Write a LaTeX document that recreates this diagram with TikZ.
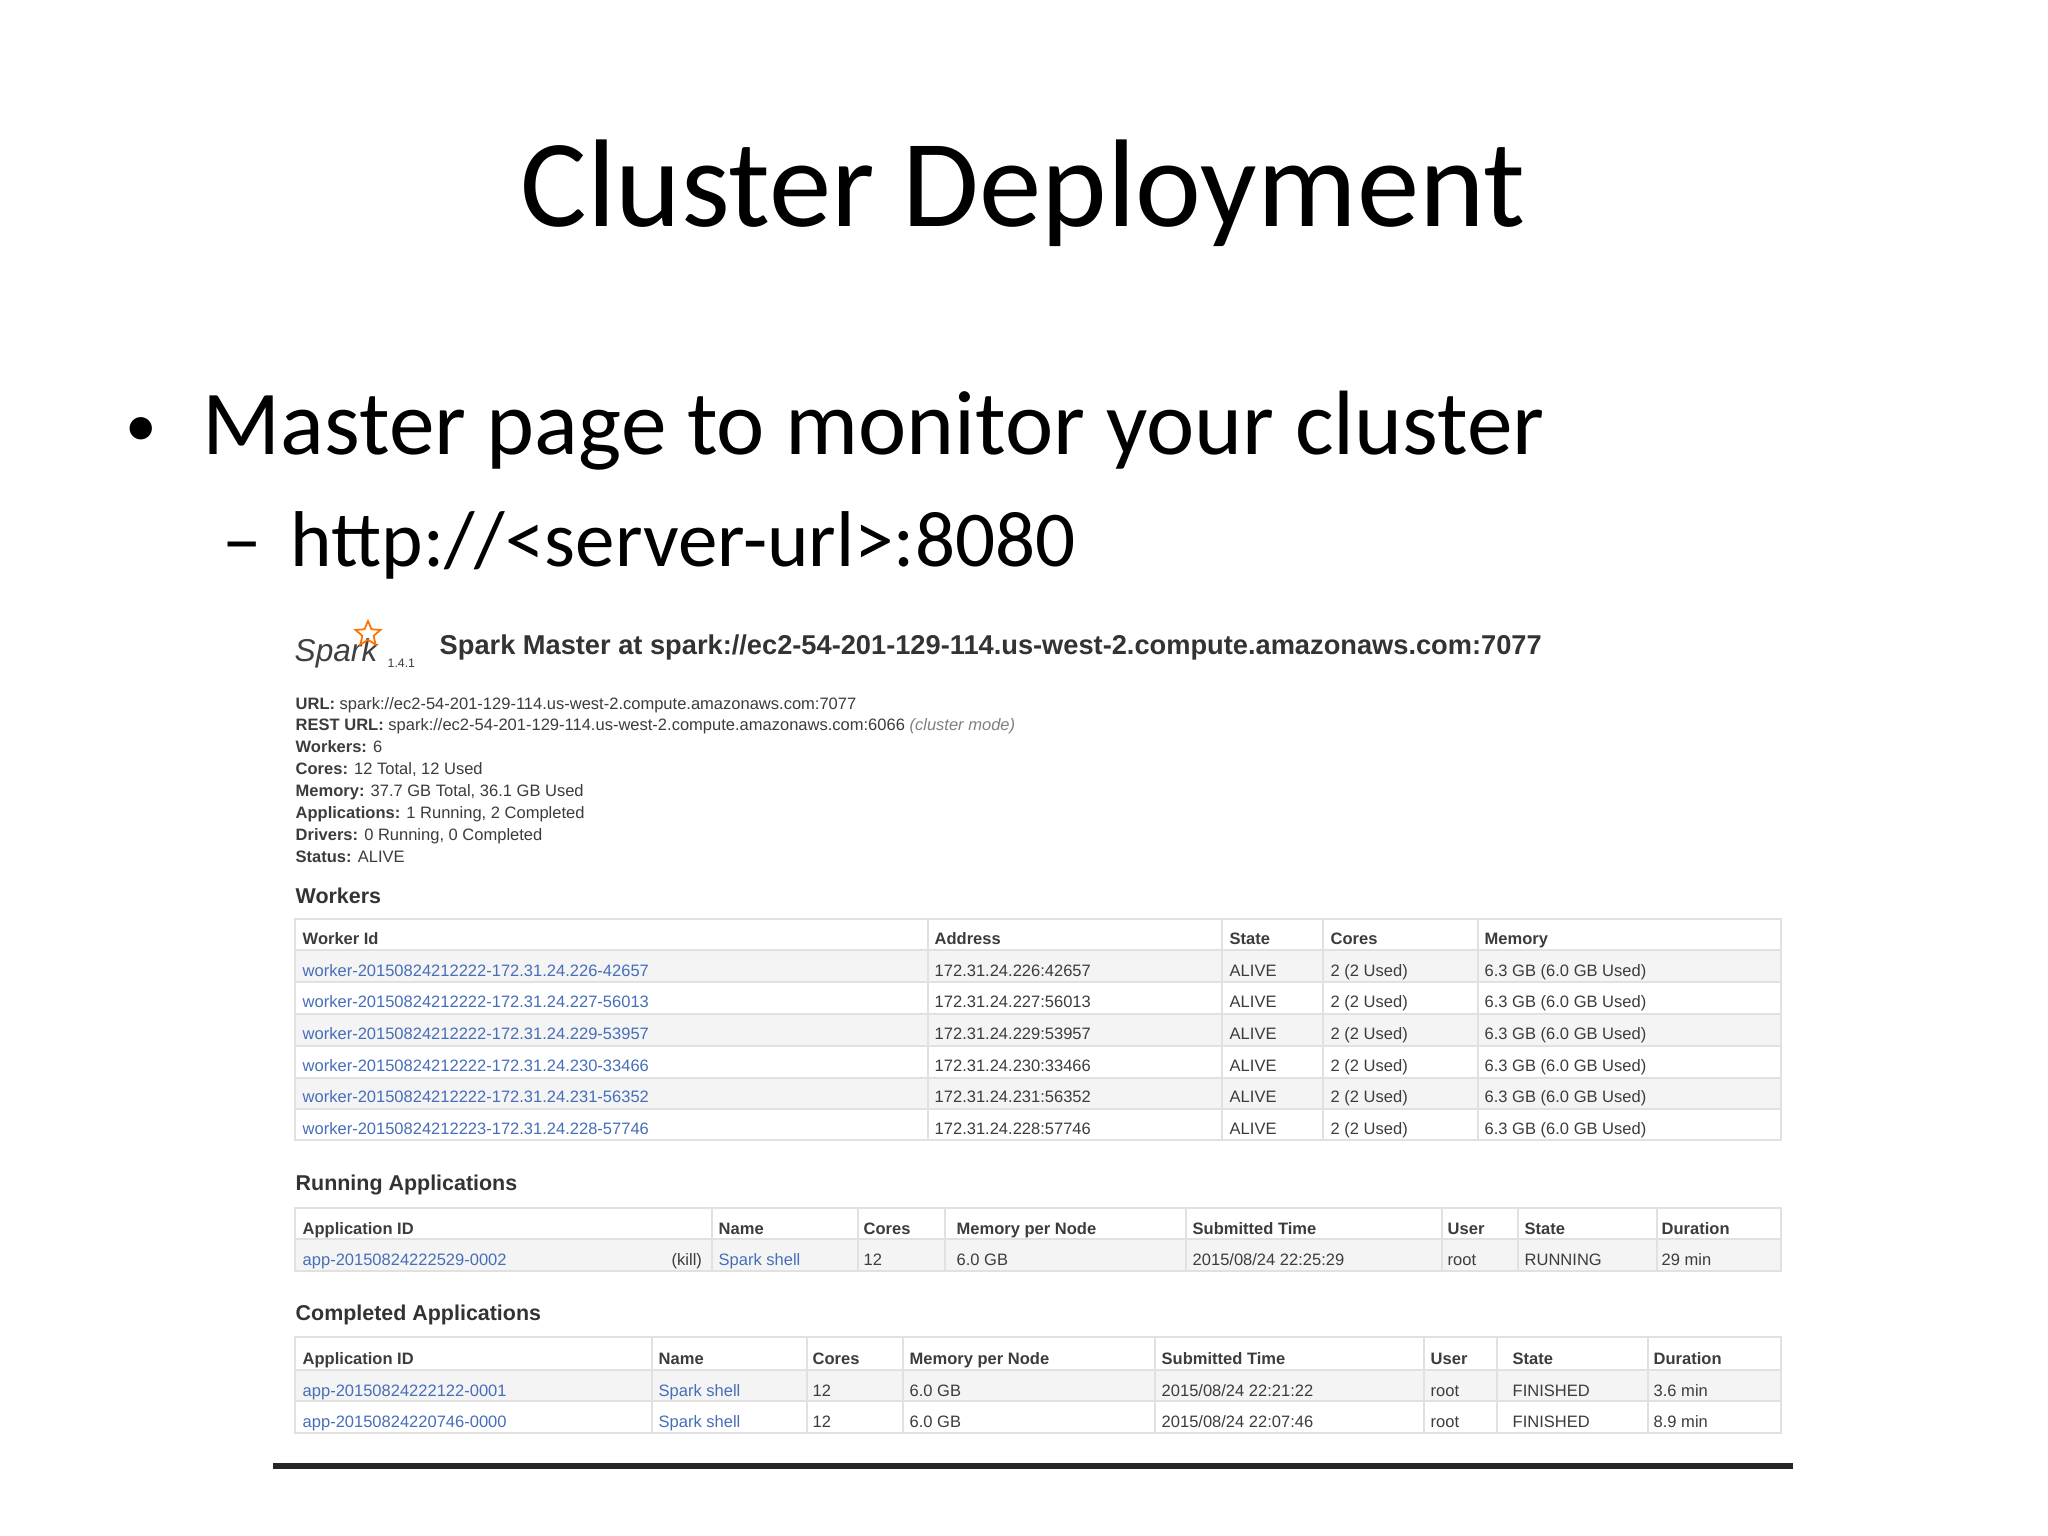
\documentclass[tikz,border=0pt]{standalone}
\usepackage{fontspec}
\setmainfont{Carlito}
\newfontfamily\ui{Liberation Sans}
\usetikzlibrary{shapes.geometric}
\definecolor{lnk}{RGB}{70,110,185}
\definecolor{rowg}{RGB}{244,244,244}
\definecolor{sepg}{RGB}{225,225,225}
\definecolor{txg}{RGB}{60,60,60}
\tikzset{
 sm/.style={anchor=west,inner sep=0pt,text height=1.5ex,text depth=0.3ex,font=\ui\fontsize{4.7}{6}\selectfont,text=txg},
 hd/.style={sm,font=\ui\bfseries\fontsize{4.7}{6}\selectfont},
 lk/.style={sm,text=lnk},
 sec/.style={anchor=west,inner sep=0pt,font=\ui\bfseries\fontsize{6.1}{7}\selectfont,text=black!80},
}
\begin{document}
\begin{tikzpicture}
\useasboundingbox[fill=white] (0,0) rectangle (20.48,-15.36);
% title
\node[font=\fontsize{35.5}{40}\selectfont] (title) at (10.23,-1.93) {Cluster Deployment};
\node[anchor=base west,inner sep=0pt,font=\fontsize{18}{20}\selectfont] (b1) at (1.25,-4.47) {\textbullet};
\node[anchor=base west,inner sep=0pt,font=\fontsize{26}{30}\selectfont] (t1) at (2.02,-4.55) {Master page to monitor your cluster};
\node[anchor=base west,inner sep=0pt,font=\fontsize{22.5}{26}\selectfont] (b2) at (2.22,-5.67) {–};
\node[anchor=base west,inner sep=0pt,font=\fontsize{22.5}{26}\selectfont] (t2) at (2.90,-5.67) {http://<server-url>:8080};
% spark header
\node[anchor=west,inner sep=0pt,font=\ui\itshape\fontsize{9}{10}\selectfont,text=black!75] (logo) at (2.94,-6.53) {Spark};
\node[star,star points=5,star point ratio=2.2,draw=orange!90!red,line width=0.5pt,minimum size=0.26cm,inner sep=0pt] (star) at (3.68,-6.34) {};
\node[anchor=west,inner sep=0pt,font=\ui\fontsize{3.5}{4}\selectfont,text=txg] (ver) at (3.87,-6.63) {1.4.1};
\node[anchor=west,inner sep=0pt,font=\ui\bfseries\fontsize{7.75}{9}\selectfont,text=black!80] (h) at (4.39,-6.47) {Spark Master at spark://ec2-54-201-129-114.us-west-2.compute.amazonaws.com:7077};
% info lines
\foreach \i/\k/\v in {0/URL:/{spark://ec2-54-201-129-114.us-west-2.compute.amazonaws.com:7077},
 1/REST URL:/{spark://ec2-54-201-129-114.us-west-2.compute.amazonaws.com:6066 {\itshape\color{gray}(cluster mode)}},
 2/Workers:/6, 3/Cores:/{12 Total, 12 Used}, 4/Memory:/{37.7 GB Total, 36.1 GB Used},
 5/Applications:/{1 Running, 2 Completed}, 6/Drivers:/{0 Running, 0 Completed}, 7/Status:/ALIVE}
 \node[sm] (info\i) at (2.95,{-6.99-0.219*\i}) {\textbf{\k} \v};
% Workers
\node[sec] (wl) at (2.95,-8.96) {Workers};
\fill[rowg] (2.95,-9.50) rectangle (17.81,-9.82);
\fill[rowg] (2.95,-10.14) rectangle (17.81,-10.46);
\fill[rowg] (2.95,-10.78) rectangle (17.81,-11.09);
\draw[sepg,line width=0.4pt] (2.95,-9.19) rectangle (17.81,-11.40);
\foreach \x in {9.28,12.22,13.23,14.78} \draw[sepg,line width=0.4pt] (\x,-9.19) -- (\x,-11.40);
\foreach \y in {9.50,9.82,10.14,10.46,10.78,11.09} \draw[sepg,line width=0.4pt] (2.95,-\y) -- (17.81,-\y);
\node[hd] (wh1) at (3.02,-9.34) {Worker Id};
\node[hd] (wh2) at (9.34,-9.34) {Address};
\node[hd] (wh3) at (12.29,-9.34) {State};
\node[hd] (wh4) at (13.30,-9.34) {Cores};
\node[hd] (wh5) at (14.84,-9.34) {Memory};
\foreach \i/\w/\a in {0/{20150824212222-172.31.24.226-42657}/{172.31.24.226:42657},
 1/{20150824212222-172.31.24.227-56013}/{172.31.24.227:56013},
 2/{20150824212222-172.31.24.229-53957}/{172.31.24.229:53957},
 3/{20150824212222-172.31.24.230-33466}/{172.31.24.230:33466},
 4/{20150824212222-172.31.24.231-56352}/{172.31.24.231:56352},
 5/{20150824212223-172.31.24.228-57746}/{172.31.24.228:57746}}{
 \node[lk] (wid\i) at (3.02,{-9.66-0.317*\i}) {worker-\w};
 \node[sm] (wad\i) at (9.34,{-9.66-0.317*\i}) {\a};
 \node[sm] (wst\i) at (12.29,{-9.66-0.317*\i}) {ALIVE};
 \node[sm] (wco\i) at (13.30,{-9.66-0.317*\i}) {2 (2 Used)};
 \node[sm] (wme\i) at (14.84,{-9.66-0.317*\i}) {6.3 GB (6.0 GB Used)};
}
% Running
\node[sec] (rl) at (2.95,-11.85) {Running Applications};
\fill[rowg] (2.95,-12.39) rectangle (17.81,-12.71);
\draw[sepg,line width=0.4pt] (2.95,-12.08) rectangle (17.81,-12.71);
\draw[sepg,line width=0.4pt] (2.95,-12.39) -- (17.81,-12.39);
\foreach \x in {7.12,8.58,9.45,11.86,14.42,15.18,16.57} \draw[sepg,line width=0.4pt] (\x,-12.08) -- (\x,-12.71);
\foreach \n/\x/\t in {1/3.02/Application ID,2/7.18/Name,3/8.63/Cores,4/9.56/Memory per Node,5/11.92/Submitted Time,6/14.47/User,7/15.24/State,8/16.61/Duration}
 \node[hd] (rh\n) at (\x,-12.24) {\t};
\node[lk] (r1) at (3.02,-12.55) {app-20150824222529-0002};
\node[sm] (rk) at (6.71,-12.55) {(kill)};
\node[lk] (r2) at (7.18,-12.55) {Spark shell};
\foreach \n/\x/\t in {3/8.63/12,4/9.56/{6.0 GB},5/11.92/{2015/08/24 22:25:29},6/14.47/root,7/15.24/RUNNING,8/16.61/{29 min}}
 \node[sm] (r\n) at (\x,-12.55) {\t};
% Completed
\node[sec] (cl) at (2.95,-13.15) {Completed Applications};
\fill[rowg] (2.95,-13.70) rectangle (17.81,-14.01);
\draw[sepg,line width=0.4pt] (2.95,-13.37) rectangle (17.81,-14.33);
\foreach \y in {13.70,14.01} \draw[sepg,line width=0.4pt] (2.95,-\y) -- (17.81,-\y);
\foreach \x in {6.52,8.07,9.03,11.55,14.24,14.97,16.48} \draw[sepg,line width=0.4pt] (\x,-13.37) -- (\x,-14.33);
\foreach \n/\x/\t in {1/3.02/Application ID,2/6.58/Name,3/8.12/Cores,4/9.09/Memory per Node,5/11.61/Submitted Time,6/14.30/User,7/15.12/State,8/16.53/Duration}
 \node[hd] (ch\n) at (\x,-13.54) {\t};
\foreach \i/\a/\s/\d in {0/{app-20150824222122-0001}/{2015/08/24 22:21:22}/{3.6 min},1/{app-20150824220746-0000}/{2015/08/24 22:07:46}/{8.9 min}}{
 \node[lk] (ca\i) at (3.02,{-13.86-0.31*\i}) {\a};
 \node[lk] (cn\i) at (6.58,{-13.86-0.31*\i}) {Spark shell};
 \node[sm] (cc\i) at (8.12,{-13.86-0.31*\i}) {12};
 \node[sm] (cm\i) at (9.09,{-13.86-0.31*\i}) {6.0 GB};
 \node[sm] (cs\i) at (11.61,{-13.86-0.31*\i}) {\s};
 \node[sm] (cu\i) at (14.30,{-13.86-0.31*\i}) {root};
 \node[sm] (ct\i) at (15.12,{-13.86-0.31*\i}) {FINISHED};
 \node[sm] (cd\i) at (16.53,{-13.86-0.31*\i}) {\d};
}
\draw[black!85,line width=1.6pt] (2.73,-14.66) -- (17.93,-14.66);
\end{tikzpicture}
\end{document}
